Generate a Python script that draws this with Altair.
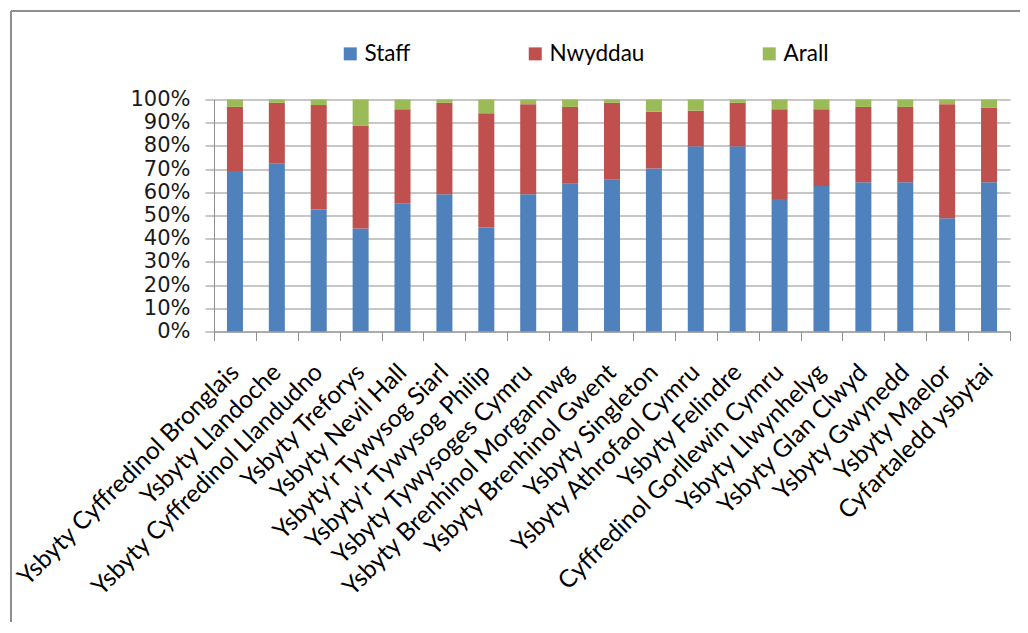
import altair as alt
import pandas as pd

hospitals = [
    "Ysbyty Cyffredinol Bronglais",
    "Ysbyty Llandoche",
    "Ysbyty Cyffredinol Llandudno",
    "Ysbyty Treforys",
    "Ysbyty Nevil Hall",
    "Ysbyty'r Tywysog Siarl",
    "Ysbyty'r Tywysog Philip",
    "Ysbyty Tywysoges Cymru",
    "Ysbyty Brenhinol Morgannwg",
    "Ysbyty Brenhinol Gwent",
    "Ysbyty Singleton",
    "Ysbyty Athrofaol Cymru",
    "Ysbyty Felindre",
    "Cyffredinol Gorllewin Cymru",
    "Ysbyty Llwynhelyg",
    "Ysbyty Glan Clwyd",
    "Ysbyty Gwynedd",
    "Ysbyty Maelor",
    "Cyfartaledd ysbytai",
]

staff = [69.2, 72.5, 52.6, 44.4, 55.3, 59.2, 44.8, 59.2, 63.7, 65.4,
         70.3, 79.8, 79.8, 57.1, 62.7, 64.3, 64.3, 48.8, 64.3]
nwyddau = [27.6, 26.1, 45.0, 44.2, 40.5, 39.4, 49.3, 38.8, 33.1, 33.2,
           24.4, 15.4, 18.8, 38.7, 33.1, 32.5, 32.5, 49.2, 32.1]
arall = [3.2, 1.4, 2.4, 11.4, 4.2, 1.4, 5.9, 2.0, 3.2, 1.4,
         5.3, 4.8, 1.4, 4.2, 4.2, 3.2, 3.2, 2.0, 3.6]

series = ["Staff", "Nwyddau", "Arall"]
colors = ["#4F81BD", "#C0504D", "#9BBB59"]
y_ticks = [i / 10 for i in range(11)]

rows = []
for i, h in enumerate(hospitals):
    for k, (s, vals) in enumerate(zip(series, [staff, nwyddau, arall])):
        rows.append({"ysbyty": h, "categori": s, "gwerth": vals[i], "trefn": k})
df = pd.DataFrame(rows)

W, H = 796, 232
GRAY = "#8e8e8e"

bars = alt.Chart(df).mark_bar(width=16).encode(
    x=alt.X(
        "ysbyty:N",
        sort=hospitals,
        scale=alt.Scale(paddingInner=0, paddingOuter=0),
        axis=alt.Axis(
            title=None,
            labelAngle=315,
            labelAlign="right",
            labelBaseline="middle",
            labelFont="Lato",
            labelFontSize=24.5,
            labelColor="black",
            labelPadding=28,
            labelOverlap=False,
            labelLimit=0,
            tickBand="extent",
            tickSize=9,
            tickColor=GRAY,
            domainColor=GRAY,
            grid=False,
        ),
    ),
    y=alt.Y(
        "gwerth:Q",
        stack="normalize",
        scale=alt.Scale(domain=[0, 1]),
        axis=alt.Axis(
            title=None,
            format=".0%",
            values=y_ticks,
            labelFont="DejaVu Sans",
            labelFontSize=21,
            labelColor="#1a1a1a",
            labelPadding=15,
            tickSize=9,
            tickColor=GRAY,
            domainColor=GRAY,
            grid=True,
            gridColor=GRAY,
        ),
    ),
    color=alt.Color(
        "categori:N",
        sort=series,
        scale=alt.Scale(domain=series, range=colors),
        legend=alt.Legend(
            title=None,
            orient="none",
            legendX=125,
            legendY=-57,
            direction="horizontal",
            symbolType="square",
            symbolSize=169,
            symbolStrokeWidth=0,
            labelFont="Lato",
            labelFontSize=22.5,
            labelColor="black",
            labelOffset=3,
            columnPadding=113,
            padding=0,
        ),
    ),
    order=alt.Order("trefn:Q"),
)

one = pd.DataFrame({"a": [0]})
top_line = alt.Chart(one).mark_rule(color=GRAY, strokeWidth=2).encode(
    x=alt.value(-203), x2=alt.value(806), y=alt.value(-88.5)
)
left_line = alt.Chart(one).mark_rule(color=GRAY, strokeWidth=2).encode(
    x=alt.value(-203), y=alt.value(-88.5), y2=alt.value(530)
)

chart = alt.layer(top_line, left_line, bars).properties(
    width=W,
    height=H,
    padding={"left": 206, "top": 91.5, "right": 10, "bottom": 290},
    autosize=alt.AutoSizeParams(type="none"),
).configure_view(stroke=None)

chart.save("out.html", embed_options={"renderer": "svg", "actions": False})
